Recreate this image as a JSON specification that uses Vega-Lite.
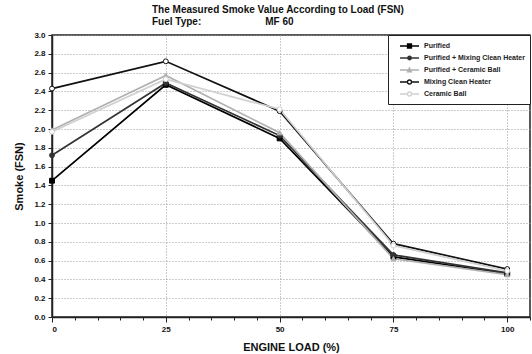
{
  "$schema": "https://vega.github.io/schema/vega-lite/v6.json",
  "width": 478,
  "height": 282,
  "autosize": {"type": "none"},
  "padding": {"left": 52, "top": 35, "right": 2, "bottom": 37},
  "background": "white",
  "title": {
    "text": "The Measured Smoke Value According to Load (FSN)",
    "subtitle": "Fuel Type:\u00a0\u00a0\u00a0\u00a0\u00a0\u00a0\u00a0\u00a0\u00a0\u00a0\u00a0\u00a0\u00a0\u00a0\u00a0\u00a0\u00a0\u00a0\u00a0\u00a0\u00a0\u00a0\u00a0MF 60",
    "anchor": "start",
    "frame": "group",
    "dx": 100,
    "offset": 4,
    "font": "Liberation Sans",
    "fontSize": 10,
    "fontWeight": "bold",
    "color": "#111",
    "subtitleFont": "Liberation Sans",
    "subtitleFontSize": 10,
    "subtitleFontWeight": "bold",
    "subtitleColor": "#111",
    "subtitlePadding": 2
  },
  "config": {
    "view": {"stroke": "#222", "strokeWidth": 1.5},
    "font": "Liberation Sans"
  },
  "data": {
    "values": [
      {"load": 0, "smoke": 1.45, "series": "Purified"},
      {"load": 25, "smoke": 2.47, "series": "Purified"},
      {"load": 50, "smoke": 1.90, "series": "Purified"},
      {"load": 75, "smoke": 0.64, "series": "Purified"},
      {"load": 100, "smoke": 0.46, "series": "Purified"},
      {"load": 0, "smoke": 1.72, "series": "Purified + Mixing Clean Heater"},
      {"load": 25, "smoke": 2.49, "series": "Purified + Mixing Clean Heater"},
      {"load": 50, "smoke": 1.93, "series": "Purified + Mixing Clean Heater"},
      {"load": 75, "smoke": 0.66, "series": "Purified + Mixing Clean Heater"},
      {"load": 100, "smoke": 0.47, "series": "Purified + Mixing Clean Heater"},
      {"load": 0, "smoke": 1.99, "series": "Purified + Ceramic Ball"},
      {"load": 25, "smoke": 2.57, "series": "Purified + Ceramic Ball"},
      {"load": 50, "smoke": 1.96, "series": "Purified + Ceramic Ball"},
      {"load": 75, "smoke": 0.62, "series": "Purified + Ceramic Ball"},
      {"load": 100, "smoke": 0.45, "series": "Purified + Ceramic Ball"},
      {"load": 0, "smoke": 2.43, "series": "Mixing Clean Heater"},
      {"load": 25, "smoke": 2.72, "series": "Mixing Clean Heater"},
      {"load": 50, "smoke": 2.19, "series": "Mixing Clean Heater"},
      {"load": 75, "smoke": 0.78, "series": "Mixing Clean Heater"},
      {"load": 100, "smoke": 0.51, "series": "Mixing Clean Heater"},
      {"load": 0, "smoke": 1.97, "series": "Ceramic Ball"},
      {"load": 25, "smoke": 2.53, "series": "Ceramic Ball"},
      {"load": 50, "smoke": 2.21, "series": "Ceramic Ball"},
      {"load": 75, "smoke": 0.76, "series": "Ceramic Ball"},
      {"load": 100, "smoke": 0.49, "series": "Ceramic Ball"}
    ]
  },
  "encoding": {
    "x": {
      "field": "load",
      "type": "quantitative",
      "scale": {"domain": [0, 105], "nice": false, "zero": false},
      "axis": {
        "title": "ENGINE LOAD (%)",
        "titleFont": "Liberation Sans",
        "titleFontSize": 11,
        "titleFontWeight": "bold",
        "titleColor": "#111",
        "titlePadding": 8,
        "values": [0, 5, 10, 15, 20, 25, 30, 35, 40, 45, 50, 55, 60, 65, 70, 75, 80, 85, 90, 95, 100, 105],
        "labelExpr": "datum.value % 25 === 0 && datum.value <= 100 ? datum.label : ''",
        "labelFont": "Liberation Sans",
        "labelFontSize": 8,
        "labelFontWeight": "bold",
        "labelColor": "#111",
        "labelPadding": 3,
        "domainColor": "#222",
        "domainWidth": 1.5,
        "tickColor": "#222",
        "tickWidth": 1,
        "tickSize": {"condition": {"test": "datum.value % 25 === 0", "value": 5}, "value": 3},
        "grid": true,
        "gridColor": "#999",
        "gridDash": [1, 2],
        "gridWidth": 1,
        "gridOpacity": {"condition": {"test": "datum.value % 25 === 0 && datum.value > 0 && datum.value <= 100", "value": 1}, "value": 0}
      }
    },
    "y": {
      "field": "smoke",
      "type": "quantitative",
      "scale": {"domain": [0, 3], "nice": false},
      "axis": {
        "title": "Smoke (FSN)",
        "titleFont": "Liberation Sans",
        "titleFontSize": 11,
        "titleFontWeight": "bold",
        "titleColor": "#111",
        "titlePadding": 9,
        "values": [0, 0.2, 0.4, 0.6, 0.8, 1.0, 1.2, 1.4, 1.6, 1.8, 2.0, 2.2, 2.4, 2.6, 2.8, 3.0],
        "format": ".1f",
        "labelFont": "Liberation Sans",
        "labelFontSize": 8,
        "labelFontWeight": "bold",
        "labelColor": "#111",
        "labelPadding": 3,
        "domainColor": "#222",
        "domainWidth": 1.5,
        "tickColor": "#222",
        "tickSize": 4,
        "grid": true,
        "gridColor": "#999",
        "gridDash": [1, 2],
        "gridWidth": 1
      }
    }
  },
  "layer": [
    {
      "mark": {"type": "line", "strokeWidth": 1.7},
      "encoding": {
        "color": {
          "field": "series",
          "type": "nominal",
          "scale": {
            "domain": ["Purified", "Purified + Mixing Clean Heater", "Purified + Ceramic Ball", "Mixing Clean Heater", "Ceramic Ball"],
            "range": ["#000000", "#333333", "#b0b0b0", "#111111", "#d0d0d0"]
          },
          "legend": {
            "title": null,
            "orient": "top-right",
            "offset": 0,
            "direction": "vertical",
            "strokeColor": "#222",
            "fillColor": "white",
            "padding": 5,
            "labelFont": "Liberation Sans",
            "labelFontSize": 7,
            "labelFontWeight": "bold",
            "labelColor": "#222",
            "symbolSize": 100,
            "symbolStrokeWidth": 1.3,
            "symbolOpacity": 1,
            "rowPadding": 1,
            "labelOffset": 19,
            "encode": {
              "symbols": {
                "update": {
                  "shape": {"signal": "datum.value === 'Purified' ? 'M0.2,0H4M1.7,-0.4H2.5V0.4H1.7Z' : datum.value === 'Purified + Mixing Clean Heater' ? 'M0.2,0H4M2.45,0A0.35,0.35 0 1,1 1.75,0A0.35,0.35 0 1,1 2.45,0Z' : datum.value === 'Purified + Ceramic Ball' ? 'M0.2,0H4M2.1,-0.4L2.5,0.35H1.7Z' : 'M0.2,0H1.7M2.5,0H4M2.5,0A0.4,0.4 0 1,1 1.7,0A0.4,0.4 0 1,1 2.5,0Z'"},
                  "fill": {"signal": "datum.value === 'Mixing Clean Heater' || datum.value === 'Ceramic Ball' ? '#ffffff' : scale('color', datum.value)"},
                  "stroke": {"signal": "scale('color', datum.value)"}
                }
              }
            }
          }
        }
      }
    },
    {
      "mark": {"type": "point", "size": 24, "strokeWidth": 1, "opacity": 1},
      "encoding": {
        "stroke": {
          "field": "series",
          "type": "nominal",
          "sort": ["Purified", "Purified + Mixing Clean Heater", "Purified + Ceramic Ball", "Mixing Clean Heater", "Ceramic Ball"],
          "scale": {"range": ["#000000", "#333333", "#b0b0b0", "#111111", "#d0d0d0"]},
          "legend": null
        },
        "shape": {
          "field": "series",
          "type": "nominal",
          "sort": ["Purified", "Purified + Mixing Clean Heater", "Purified + Ceramic Ball", "Mixing Clean Heater", "Ceramic Ball"],
          "scale": {"range": ["square", "circle", "triangle-up", "circle", "circle"]},
          "legend": null
        },
        "fill": {
          "field": "series",
          "type": "nominal",
          "sort": ["Purified", "Purified + Mixing Clean Heater", "Purified + Ceramic Ball", "Mixing Clean Heater", "Ceramic Ball"],
          "scale": {"range": ["#000000", "#333333", "#b0b0b0", "#ffffff", "#ffffff"]},
          "legend": null
        }
      }
    }
  ]
}
